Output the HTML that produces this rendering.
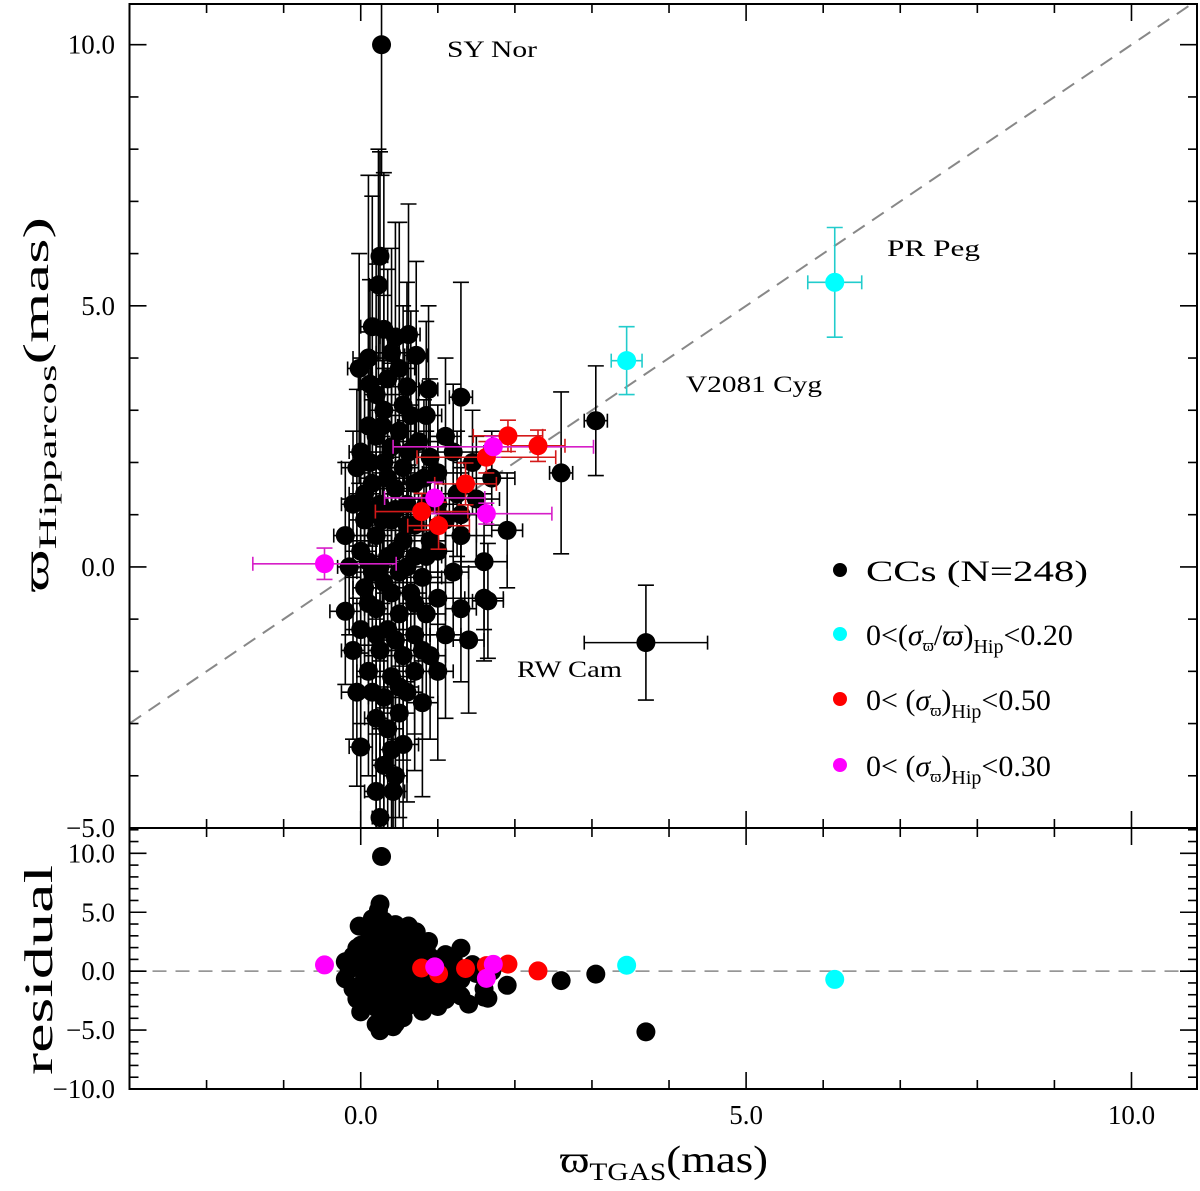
<!DOCTYPE html>
<html><head><meta charset="utf-8">
<style>
body{margin:0;background:#fff;}
svg{display:block;font-family:"Liberation Serif",serif;}
</style></head>
<body>
<svg id="chart" width="1200" height="1191" viewBox="0 0 1200 1191" xmlns="http://www.w3.org/2000/svg">
<defs>
<clipPath id="clipTop"><rect x="129.5" y="4" width="1067.5" height="824"/></clipPath>
<clipPath id="clipBot"><rect x="129.5" y="828" width="1067.5" height="261"/></clipPath>
</defs>
<g id="gTop" clip-path="url(#clipTop)"></g>
<g id="gBot" clip-path="url(#clipBot)"></g>
<g id="gAxes"></g>
<g font-size="23" fill="#000">
<text x="447" y="57" textLength="90" lengthAdjust="spacingAndGlyphs">SY Nor</text>
<text x="887" y="256" textLength="93" lengthAdjust="spacingAndGlyphs">PR Peg</text>
<text x="686" y="392" textLength="136" lengthAdjust="spacingAndGlyphs">V2081 Cyg</text>
<text x="517" y="677" textLength="105" lengthAdjust="spacingAndGlyphs">RW Cam</text>
</g>
<g font-size="30" fill="#000">
<circle cx="840" cy="570" r="7" fill="#000"/>
<text x="866" y="581" textLength="222" lengthAdjust="spacingAndGlyphs">CCs (N=248)</text>
<circle cx="840" cy="634" r="7" fill="#00ffff"/>
<text x="866" y="645">0&lt;(<tspan font-style="italic">σ</tspan><tspan font-size="17" dy="6">ϖ</tspan><tspan dy="-6">/</tspan><tspan font-style="italic">ϖ</tspan>)<tspan font-size="20" dy="8">Hip</tspan><tspan dy="-8">&lt;0.20</tspan></text>
<circle cx="840" cy="699" r="7" fill="#ff0000"/>
<text x="866" y="710">0&lt; (<tspan font-style="italic">σ</tspan><tspan font-size="17" dy="6">ϖ</tspan><tspan dy="-6">)</tspan><tspan font-size="20" dy="8">Hip</tspan><tspan dy="-8">&lt;0.50</tspan></text>
<circle cx="840" cy="765" r="7" fill="#ff00ff"/>
<text x="866" y="776">0&lt; (<tspan font-style="italic">σ</tspan><tspan font-size="17" dy="6">ϖ</tspan><tspan dy="-6">)</tspan><tspan font-size="20" dy="8">Hip</tspan><tspan dy="-8">&lt;0.30</tspan></text>
</g>
<text x="0" y="0" font-size="36" transform="translate(48,592) rotate(-90)" textLength="375" lengthAdjust="spacingAndGlyphs">ϖ<tspan font-size="25" dy="8">Hipparcos</tspan><tspan dy="-8">(mas)</tspan></text>
<text x="0" y="0" font-size="40" text-anchor="middle" transform="translate(52,970) rotate(-90)" textLength="210" lengthAdjust="spacingAndGlyphs">residual</text>
<text x="560" y="1172" font-size="38" textLength="208" lengthAdjust="spacingAndGlyphs">ϖ<tspan font-size="25" dy="8">TGAS</tspan><tspan dy="-8">(mas)</tspan></text>
</svg>
<script>
// Data: [x, y, xerr, yerr]
const blackPts = [
[0.27,10.0,0.05,2.5],[0.25,5.95,0.1,2.0],[0.23,5.4,0.12,2.6],[0.15,4.6,0.15,2.5],[0.3,4.55,0.2,3.0],[0.45,4.4,0.2,2.2],[0.62,4.45,0.15,2.5],[0.4,4.1,0.2,2.0],[0.72,4.05,0.15,1.8],[-0.02,3.8,0.15,2.2],[0.6,3.45,0.2,2.0],[0.88,3.4,0.12,1.6],[0.3,3.0,0.2,2.2],[0.65,2.9,0.25,2.0],[1.3,3.25,0.15,2.2],[0.85,2.9,0.2,1.8],[0.1,2.7,0.1,1.8],[0.5,2.6,0.2,1.7],[0.2,2.5,0.1,1.6],[1.1,2.5,0.2,1.5],[0.0,2.2,0.15,1.7],[0.4,2.3,0.2,1.6],[0.75,2.4,0.25,1.6],[0.9,2.1,0.3,1.5],[1.2,2.2,0.4,1.3],[0.3,2.0,0.15,1.8],[-0.05,1.9,0.2,1.5],[0.55,1.9,0.2,1.4],[1.0,1.8,0.2,1.3],[0.15,1.6,0.1,1.6],[0.45,1.5,0.2,1.5],[0.7,1.6,0.2,1.4],[1.25,1.4,0.2,1.2],[-0.1,1.2,0.15,1.4],[0.25,1.2,0.2,1.5],[0.6,1.2,0.2,1.6],[0.85,1.2,0.3,1.4],[1.5,1.3,0.3,1.2],[0.05,0.9,0.2,1.3],[0.4,0.9,0.15,1.5],[0.7,0.8,0.2,1.5],[1.1,0.9,0.2,1.2],[-0.2,0.6,0.15,1.4],[0.2,0.6,0.2,1.6],[0.55,0.5,0.15,1.7],[0.9,0.5,0.2,1.4],[1.3,0.6,0.2,1.2],[0.0,0.3,0.2,1.5],[0.35,0.2,0.15,1.8],[0.7,0.2,0.2,1.6],[1.0,0.3,0.2,1.4],[1.6,0.1,0.3,1.3],[-0.15,0.0,0.15,1.3],[0.15,-0.1,0.2,1.6],[0.5,-0.1,0.2,1.8],[0.8,-0.2,0.25,1.6],[1.2,-0.1,0.2,1.3],[0.05,-0.4,0.15,1.7],[0.4,-0.5,0.2,1.9],[0.65,-0.5,0.2,1.8],[1.0,-0.6,0.2,1.5],[-0.2,-0.85,0.2,1.4],[0.2,-0.8,0.15,2.0],[0.5,-0.9,0.2,1.9],[0.85,-0.9,0.25,1.6],[1.3,-0.8,0.2,1.4],[1.65,-0.65,0.2,1.1],[1.6,-0.6,0.25,1.2],[0.0,-1.2,0.2,1.8],[0.35,-1.2,0.2,2.0],[0.7,-1.3,0.2,1.9],[1.1,-1.3,0.2,1.6],[1.4,-1.4,0.2,1.4],[-0.1,-1.6,0.15,1.7],[0.25,-1.6,0.15,2.1],[0.55,-1.7,0.2,2.0],[0.9,-1.7,0.2,1.6],[0.1,-2.0,0.15,2.0],[0.4,-2.1,0.2,2.2],[0.7,-2.0,0.2,1.9],[1.0,-2.0,0.2,1.7],[-0.05,-2.4,0.2,1.8],[0.3,-2.5,0.2,2.3],[0.6,-2.4,0.15,2.1],[0.2,-2.9,0.15,2.2],[0.5,-2.8,0.2,2.0],[0.8,-2.6,0.2,1.8],[0.35,-3.1,0.2,2.0],[0.0,-3.45,0.15,1.8],[0.45,-4.0,0.15,2.0],[0.25,-4.8,0.1,2.5],
[0.1,4.0,0.2,3.5],[0.5,3.8,0.2,2.8],[0.2,3.3,0.15,2.5],[0.05,1.4,0.2,2.0],[0.6,0.0,0.2,2.2],[0.3,-0.3,0.2,2.4],
[0.12,3.5,0.15,2.0],[0.35,3.6,0.2,2.1],[0.55,3.1,0.2,1.9],[0.28,2.7,0.2,1.8],[0.62,2.2,0.2,1.7],[0.12,2.0,0.15,1.6],[0.35,1.7,0.2,1.6],[0.82,1.7,0.25,1.5],[0.1,1.1,0.15,1.5],[0.45,1.1,0.2,1.6],[1.0,1.2,0.2,1.3],[0.28,0.9,0.2,1.6],[0.6,0.8,0.2,1.6],[0.85,0.2,0.2,1.5],[0.1,0.1,0.2,1.6],[0.45,0.3,0.2,1.7],[0.25,0.0,0.2,1.8],[0.7,-0.7,0.2,1.7],[0.1,-0.7,0.2,1.8],[0.45,-1.4,0.2,1.9],[0.2,-1.3,0.2,1.9],[0.8,-1.6,0.2,1.7],[0.5,-2.3,0.2,2.0],[0.15,-2.4,0.2,2.0],[0.4,-3.5,0.15,2.0],[0.55,-3.4,0.2,2.0],[0.3,-3.8,0.15,2.2],[0.2,-4.3,0.15,2.3],[0.42,-4.3,0.15,2.2],
[3.05,2.8,0.15,1.05],[2.6,1.8,0.15,1.55],[1.9,0.7,0.2,1.1],[3.7,-1.45,0.8,1.1],[1.45,2.0,0.25,1.0],[1.7,1.7,0.3,0.9],[1.3,1.0,0.3,0.9]
];
const cyanPts = [[3.45,3.95,0.2,0.65],[6.15,5.45,0.35,1.05]];
const redPts = [[1.91,2.51,0.45,0.3],[2.30,2.32,0.35,0.3],[1.63,2.10,0.9,0.3],[1.36,1.59,0.4,0.4],[0.79,1.06,0.6,0.35],[1.01,0.79,0.4,0.45]];
const magentaPts = [[1.72,2.30,1.3,0.2],[0.96,1.32,0.65,0.3],[1.63,1.02,0.85,0.2],[-0.47,0.06,0.93,0.3]];
const xTicks = [0, 5, 10];
const xTickLabels = ["0.0","5.0","10.0"];
const yTopTicks = [-5, 0, 5, 10];
const yTopLabels = ["\u22125.0","0.0","5.0","10.0"];
const yBotTicks = [-10, -5, 0, 5, 10];
const yBotLabels = ["\u221210.0","\u22125.0","0.0","5.0","10.0"];

const L=129.5, R=1197, T=4, M=828, B=1089;
const XMIN=-3, XMAX=10.85;
const YT_MIN=-5, YT_MAX=10.78;
const YB_MIN=-10, YB_MAX=12.15;
const sx = v => L + (v-XMIN)/(XMAX-XMIN)*(R-L);
const syT = v => M - (v-YT_MIN)/(YT_MAX-YT_MIN)*(M-T);
const syB = v => B - (v-YB_MIN)/(YB_MAX-YB_MIN)*(B-M);
const NS="http://www.w3.org/2000/svg";
function mk(tag, attrs, parent){const e=document.createElementNS(NS,tag);for(const k in attrs)e.setAttribute(k,attrs[k]);parent.appendChild(e);return e;}
const gTop=document.getElementById('gTop'), gBot=document.getElementById('gBot'), gAx=document.getElementById('gAxes');

let dl=mk('line',{x1:sx(XMIN),y1:syT(XMIN),x2:sx(XMAX),y2:syT(XMAX),stroke:'#888','stroke-width':2,'stroke-dasharray':'14,9'},gTop);


let zl=mk('line',{x1:L,y1:syB(0),x2:R,y2:syB(0),stroke:'#888','stroke-width':1.5,'stroke-dasharray':'14,9'},gBot);



function drawErr(pts, color, name){
  pts.forEach(p=>{
    const cx=sx(p[0]), cy=syT(p[1]);
    const g=mk('g',{stroke:color,'stroke-width':1.6,fill:'none'},gTop);
    
    
    const x1=sx(p[0]-p[2]), x2=sx(p[0]+p[2]), y1=syT(p[1]+p[3]), y2=syT(p[1]-p[3]);
    mk('line',{x1:x1,y1:cy,x2:x2,y2:cy},g);
    mk('line',{x1:x1,y1:cy-7,x2:x1,y2:cy+7},g);
    mk('line',{x1:x2,y1:cy-7,x2:x2,y2:cy+7},g);
    mk('line',{x1:cx,y1:y1,x2:cx,y2:y2},g);
    mk('line',{x1:cx-8,y1:y1,x2:cx+8,y2:y1},g);
    mk('line',{x1:cx-8,y1:y2,x2:cx+8,y2:y2},g);
  });
}
function drawDots(pts, color, name){
  pts.forEach(p=>{
    const c=mk('circle',{cx:sx(p[0]),cy:syT(p[1]),r:9.5,fill:color},gTop);
    
    
    const r=mk('circle',{cx:sx(p[0]),cy:syB(p[1]-p[0]),r:9.5,fill:color},gBot);
    
    
  });
}
drawErr(blackPts,'#000','cc');
drawDots(blackPts,'#000','cc');
drawErr(redPts,'#d41a1a','red');
drawErr(magentaPts,'#d61fc8','magenta');
drawErr(cyanPts,'#22cccc','cyan');
drawDots(redPts,'#ff0000','red');
drawDots(magentaPts,'#ff00ff','magenta');
drawDots(cyanPts,'#00ffff','cyan');

[[T,M],[M,B]].forEach(([a,b],i)=>{
  const f=mk('rect',{x:L,y:a,width:R-L,height:b-a,fill:'none',stroke:'#000','stroke-width':2},gAx);
  
  
});
for(let v=-2; v<=10; v++){
  const major = v%5===0;
  const len = major?17:9;
  const x=sx(v);
  [[T,1],[M,-1],[M,1],[B,-1]].forEach(([y0,dir])=>{
    const t=mk('line',{x1:x,y1:y0,x2:x,y2:y0+dir*len,stroke:'#000','stroke-width':1.6},gAx);
    
    
  });
}
xTicks.forEach((v,i)=>{
  const t=mk('text',{x:sx(v),y:1124,'font-size':27,'text-anchor':'middle'},gAx);
  t.textContent=xTickLabels[i];
  
  
});
for(let v=-5; v<=10; v++){
  const len = v%5===0?17:9;
  [[L,1],[R,-1]].forEach(([x0,d])=>{
    const t=mk('line',{x1:x0,y1:syT(v),x2:x0+d*len,y2:syT(v),stroke:'#000','stroke-width':1.6},gAx);
    
    
  });
}
yTopTicks.forEach((v,i)=>{
  const t=mk('text',{x:115,y:syT(v)+9,'font-size':27,'text-anchor':'end'},gAx);
  t.textContent=yTopLabels[i];
  
  
});
for(let v=-10; v<=12; v++){
  const len = v%5===0?17:9;
  [[L,1],[R,-1]].forEach(([x0,d])=>{
    const t=mk('line',{x1:x0,y1:syB(v),x2:x0+d*len,y2:syB(v),stroke:'#000','stroke-width':1.6},gAx);
    
    
  });
}
yBotTicks.forEach((v,i)=>{
  const t=mk('text',{x:115,y:syB(v)+9,'font-size':27,'text-anchor':'end'},gAx);
  t.textContent=yBotLabels[i];
  
  
});
</script>
</body></html>
